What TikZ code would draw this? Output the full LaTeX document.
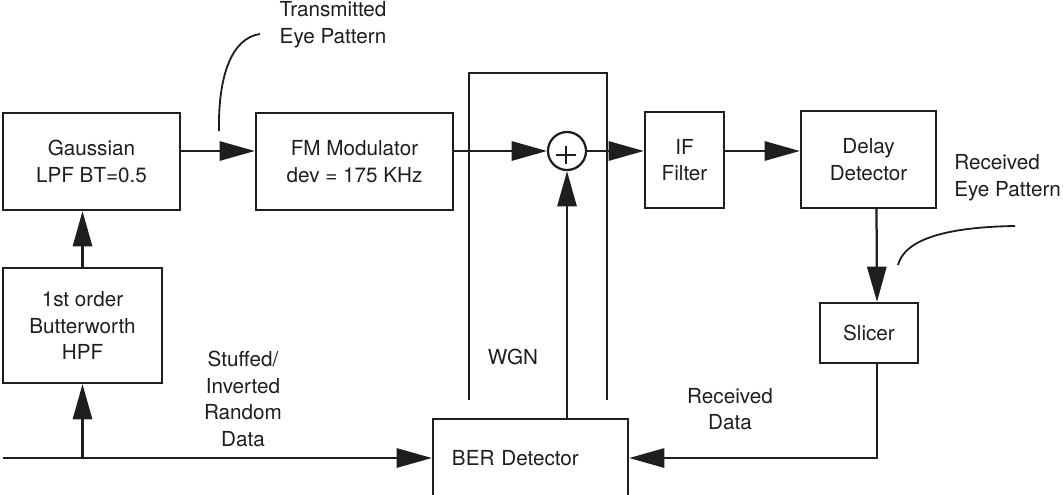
\documentclass[tikz,border=0pt]{standalone}
\usepackage{fontspec}
\setmainfont{TeX Gyre Heros}
\usepackage{tikz}
\usetikzlibrary{arrows.meta, positioning, calc}
\definecolor{mydark}{RGB}{30,30,30}
\newcommand{\blockfont}{\fontsize{14.7}{18.9}\selectfont}
\tikzset{
  block/.style={rectangle, draw=mydark, text=mydark, align=center,
    font=\blockfont, inner sep=0pt, line width=1.6pt},
  sumjunc/.style={circle, draw=mydark, minimum size=0.95cm,
    inner sep=0pt, line width=1.6pt},
  txt/.style={align=center, font=\blockfont, text=mydark, inner sep=0pt},
  arrow/.style={-{Triangle[length=0.88cm, width=0.48cm]}, line width=1.6pt, color=mydark},
  line/.style={line width=1.6pt, color=mydark},
  thinline/.style={line width=1.3pt, color=mydark}
}

\begin{document}
\begin{tikzpicture}[x=0.025cm, y=-0.025cm]
  \useasboundingbox (0,0) rectangle (1063,494);
  \clip (0,0) rectangle (1063,494);

  % Blocks
  \node[block, minimum width=4.425cm, minimum height=2.425cm] (gauss) at (91.5,161.5) {Gaussian\\LPF BT=0.5};
  \node[block, minimum width=4.925cm, minimum height=2.425cm] (fm) at (354.5,161.5) {FM Modulator\\dev = 175 KHz};
  \node[sumjunc] (sum) at (567,151) {};
  \node[block, minimum width=1.975cm, minimum height=2.4cm] (ifilt) at (684.5,160) {IF\\Filter};
  \node[block, minimum width=3.375cm, minimum height=2.425cm] (delay) at (868.5,159.5) {Delay\\Detector};
  \node[block, minimum width=2.45cm, minimum height=1.5cm] (slicer) at (869,333) {Slicer};
  \node[block, minimum width=3.975cm, minimum height=2.875cm] (hpf) at (82.5,325.5) {1st order\\Butterworth\\HPF};
  \node[block, align=left, text width=3.925cm, inner xsep=0.475cm, minimum height=1.95cm] (ber) at (530.5,458) {BER Detector};

  % Plus sign in the summer
  \draw[line] ($(sum.center)+(-11,4)$) -- ++(20,0);
  \draw[line] ($(sum.center)+(-1,-5)$) -- ++(0,18);

  % Noise enclosure
  \draw[line] (469,400) -- (469,73) -- (607,73) -- (607,400);

  % Signal path
  \draw[arrow] (gauss.east |- sum) -- (fm.west |- sum);
  \draw[arrow] (fm.east |- sum) -- (sum.west);
  \draw[arrow] (sum.east) -- (ifilt.west |- sum);
  \draw[arrow] (ifilt.east |- sum) -- (delay.west |- sum);
  \draw[arrow] ([xshift=0.2cm]delay.south) -- ([xshift=0.2cm]slicer.north);
  \draw[arrow] ([xshift=0.2cm]slicer.south) |- (ber.east);
  \draw[arrow] (sum |- ber.north) -- (sum.south);
  \draw[arrow] (hpf.north) -- (hpf.north |- gauss.south);

  % Data input
  \coordinate (datain) at (3,458);
  \draw[arrow] (datain) -- (ber.west);
  \draw[arrow] (hpf |- datain) -- (hpf.south);

  % Labels
  \node[txt] (txeye) at (333,25) {Transmitted\\Eye Pattern};
  \node[txt, anchor=west, align=left] (rxeye) at (954,178) {Received\\Eye Pattern};
  \node[txt] (stuffed) at (243,399) {Stuffed/\\Inverted\\Random\\Data};
  \node[txt] (wgn) at (513,357) {WGN};
  \node[txt] (rxdata) at (730,409) {Received\\Data};

  % Eye pattern pointers
  \coordinate (txtap) at (219,131);
  \coordinate (rxtap) at (898,265);
  \draw[thinline] (txtap) .. controls (218,75) and (232,38) .. (260,34);
  \draw[thinline] (rxtap) .. controls (905,238) and (950,227) .. (1015,226);
\end{tikzpicture}
\end{document}
